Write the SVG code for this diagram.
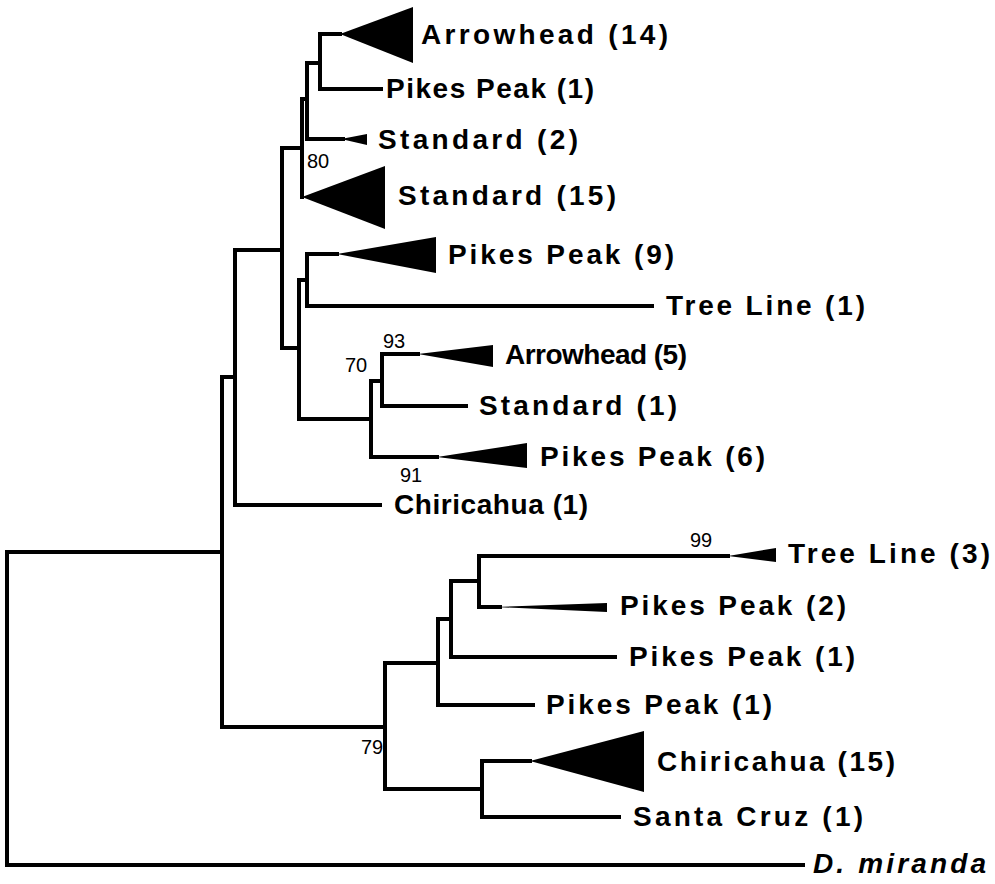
<svg xmlns="http://www.w3.org/2000/svg" width="995" height="884" viewBox="0 0 995 884">
<style>
.br{fill:none;stroke:#000;stroke-width:4;stroke-linejoin:miter;stroke-linecap:square}
.tri{fill:#000;stroke:none}
.lab{font-family:"Liberation Sans",Arial,sans-serif;font-weight:bold;font-size:28px;fill:#000}
.it{font-style:italic}
.bs{font-family:"Liberation Sans",Arial,sans-serif;font-size:20px;fill:#000}
</style>
<rect width="995" height="884" fill="#fff"/>
<g id="connectors">
<path class="br" d="M222,552 H7 V865 H803"/>
<path class="br" d="M235,377 H222 V727 H385"/>
<path class="br" d="M282,250 H235 V505 H380"/>
<path class="br" d="M302,148 H282 V348 H299"/>
<path class="br" d="M307,99 H302 V197"/>
<path class="br" d="M320,63 H307 V139 H343"/>
<path class="br" d="M340,34 H320 V89 H381"/>
<path class="br" d="M307,280 H299 V419 H371"/>
<path class="br" d="M337,254 H307 V306 H652"/>
<path class="br" d="M382,381 H371 V457 H437"/>
<path class="br" d="M418,354 H382 V406 H466"/>
<path class="br" d="M438,663 H385 V789 H482"/>
<path class="br" d="M451,619 H438 V705 H533"/>
<path class="br" d="M479,581 H451 V657 H615"/>
<path class="br" d="M728,556 H479 V607 H500"/>
<path class="br" d="M530,761 H482 V817 H619"/>
</g>
<g id="bootstrap">
<text class="bs" x="307" y="168">80</text>
<text class="bs" x="383" y="348">93</text>
<text class="bs" x="345" y="372">70</text>
<text class="bs" x="400" y="482">91</text>
<text class="bs" x="690" y="547" font-size="18">99</text>
<text class="bs" x="361" y="754">79</text>
</g>
<g id="n-arrowhead14"><polygon class="tri" points="340,34 413,7 413,63"/><text class="lab" x="421" y="44" textLength="247" lengthAdjust="spacing">Arrowhead (14)</text></g>
<g id="n-pikespeak1a"><text class="lab" x="386" y="98" textLength="208" lengthAdjust="spacing">Pikes Peak (1)</text></g>
<g id="n-standard2"><polygon class="tri" points="341,139 367,134 367,145"/><text class="lab" x="378" y="149" textLength="200" lengthAdjust="spacing">Standard (2)</text></g>
<g id="n-standard15"><polygon class="tri" points="302,197 385,166 385,229"/><text class="lab" x="398" y="205" textLength="218" lengthAdjust="spacing">Standard (15)</text></g>
<g id="n-pikespeak9"><polygon class="tri" points="337,254 436,237 436,273"/><text class="lab" x="448" y="264" textLength="226" lengthAdjust="spacing">Pikes Peak (9)</text></g>
<g id="n-treeline1"><text class="lab" x="666" y="315" textLength="199" lengthAdjust="spacing">Tree Line (1)</text></g>
<g id="n-arrowhead5"><polygon class="tri" points="418,354 493,345 493,367"/><text class="lab" x="505" y="364" font-size="27" textLength="182" lengthAdjust="spacing">Arrowhead (5)</text></g>
<g id="n-standard1"><text class="lab" x="479" y="415" textLength="198" lengthAdjust="spacing">Standard (1)</text></g>
<g id="n-pikespeak6"><polygon class="tri" points="437,457 527,443 527,468"/><text class="lab" x="540" y="466" textLength="225" lengthAdjust="spacing">Pikes Peak (6)</text></g>
<g id="n-chiricahua1"><text class="lab" x="394" y="514" textLength="194" lengthAdjust="spacing">Chiricahua (1)</text></g>
<g id="n-treeline3"><polygon class="tri" points="728,556 776,548 776,562"/><text class="lab" x="788" y="563" textLength="202" lengthAdjust="spacing">Tree Line (3)</text></g>
<g id="n-pikespeak2"><polygon class="tri" points="495,607 607,603 607,612"/><text class="lab" x="620" y="615" textLength="226" lengthAdjust="spacing">Pikes Peak (2)</text></g>
<g id="n-pikespeak1b"><text class="lab" x="629" y="666" textLength="226" lengthAdjust="spacing">Pikes Peak (1)</text></g>
<g id="n-pikespeak1c"><text class="lab" x="546" y="714" textLength="226" lengthAdjust="spacing">Pikes Peak (1)</text></g>
<g id="n-chiricahua15"><polygon class="tri" points="530,761 644,731 644,792"/><text class="lab" x="657" y="771" textLength="238" lengthAdjust="spacing">Chiricahua (15)</text></g>
<g id="n-santacruz1"><text class="lab" x="633" y="826" textLength="230" lengthAdjust="spacing">Santa Cruz (1)</text></g>
<g id="n-dmiranda"><text class="lab it" x="813" y="873" textLength="173" lengthAdjust="spacing">D. miranda</text></g>
</svg>
